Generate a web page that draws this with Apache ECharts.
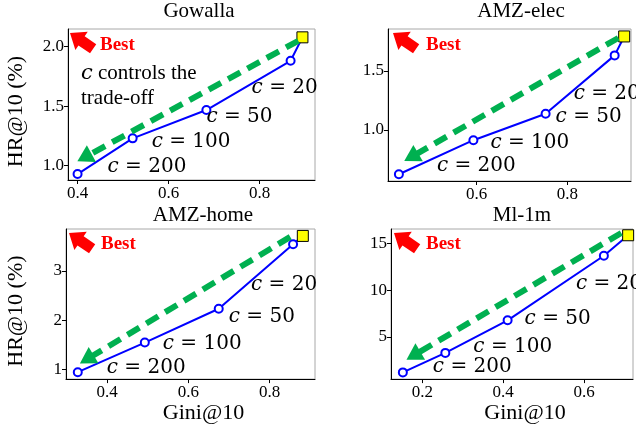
<!DOCTYPE html>
<html>
<head>
<meta charset="utf-8">
<script src="https://cdn.jsdelivr.net/npm/echarts@6/dist/echarts.min.js"></script>
<style>html,body{margin:0;padding:0;background:#fff}#c{width:636px;height:425px}</style>
</head>
<body>
<div id="c"></div>
<script>
// ---------------- data ----------------
const datasets = ['Gowalla', 'AMZ-elec', 'AMZ-home', 'Ml-1m'];
const cValues = [20, 50, 100, 200];
// c-controlled points (c = 20, 50, 100, 200)
const gowallaGini = [0.868, 0.683, 0.521, 0.400];
const gowallaHR   = [1.882, 1.468, 1.230, 0.930];
const elecGini = [0.904, 0.752, 0.593, 0.429];
const elecHR   = [1.630, 1.136, 0.913, 0.625];
const homeGini = [0.858, 0.675, 0.493, 0.328];
const homeHR   = [3.54, 2.235, 1.55, 0.95];
const mlGini = [0.649, 0.411, 0.257, 0.152];
const mlHR   = [13.7, 6.78, 3.29, 1.20];
// base model (yellow square)
const baseGini = [0.894, 0.925, 0.882, 0.709];
const baseHR   = [2.079, 1.790, 3.710, 15.9];
// tick values & labels
const xTicks = [[0.4, 0.6, 0.8], [0.6, 0.8], [0.4, 0.6, 0.8], [0.2, 0.4, 0.6]];
const xTickLabels = [['0.4', '0.6', '0.8'], ['0.6', '0.8'], ['0.4', '0.6', '0.8'], ['0.2', '0.4', '0.6']];
const yTicks = [[1.0, 1.5, 2.0], [1.0, 1.5], [1, 2, 3], [5, 10, 15]];
const yTickLabels = [['1.0', '1.5', '2.0'], ['1.0', '1.5'], ['1', '2', '3'], ['5', '10', '15']];
const xAxisTitle = 'Gini@10';
const yAxisTitle = 'HR@10 (%)';
const bestText = 'Best';
const noteText = ' controls the\ntrade-off';

// ---------------- layout ----------------
const giniSets = [gowallaGini, elecGini, homeGini, mlGini];
const hrSets = [gowallaHR, elecHR, homeHR, mlHR];
const grids = [
  {left: 68, top: 29, width: 247, height: 151},
  {left: 388, top: 29, width: 243, height: 152},
  {left: 66, top: 229, width: 249, height: 151},
  {left: 391, top: 229, width: 242, height: 151}
];
const xRanges = [[0.379, 0.9216], [0.405, 0.94], [0.299, 0.912], [0.1227, 0.721]];
const yRanges = [[0.88, 2.149], [0.568, 1.853], [0.81, 3.85], [0.48, 16.57]];
const titlePos = [[199, 1], [521, 1], [203, 205], [522, 205]];
// pixel offsets of "c = .." labels relative to each point (c=20,50,100,200)
const labelOffsets = [
  [[-39, 27], [0, 7], [19, 3], [30, -7]],
  [[-41, 38], [10, 3], [17, 3], [38, -8]],
  [[-42, 40], [10, 8], [18, 1], [29, -4]],
  [[-28, 28], [17, -2], [28, -6], [30, -6]]
];
// green trade-off arrows in data coords [start, head]
const trendArrows = [
  [[0.885, 2.05], [0.415, 1.07]],
  [[0.912, 1.777], [0.456, 0.77]],
  [[0.851, 3.69], [0.350, 1.21]],
  [[0.692, 16.14], [0.178, 3.0]]
];
const bestPos = [ // arrow tip, text left/center
  [[70, 33], [100, 45]],
  [[393, 33], [426, 45]],
  [[69, 233], [101, 244]],
  [[394, 233], [426, 244]]
];

const SERIF = '"Liberation Serif", "Times New Roman", serif';
const MATH = '"DejaVu Serif", serif';
const BLUE = '#0000ff';
const GREEN = '#00b050';

const option = {
  animation: false,
  backgroundColor: '#fff',
  title: datasets.map((d, i) => ({
    text: d, left: titlePos[i][0], top: titlePos[i][1], textAlign: 'center', padding: 0,
    textStyle: {fontFamily: SERIF, fontSize: 21, fontWeight: 'normal', color: '#000'}
  })),
  grid: grids.map(g => Object.assign({show: true, borderColor: '#a8a8a8', borderWidth: 1, backgroundColor: 'transparent'}, g)),
  xAxis: grids.map((g, i) => ({
    type: 'value', gridIndex: i, min: xRanges[i][0], max: xRanges[i][1],
    splitLine: {show: false},
    axisLine: {show: true, onZero: false, lineStyle: {color: '#000', width: 1}},
    axisTick: {show: true, length: 4, customValues: xTicks[i], lineStyle: {color: '#000'}},
    axisLabel: {customValues: xTicks[i], margin: 5, fontFamily: SERIF, fontSize: 17, color: '#000',
      formatter: v => { const k = xTicks[i].findIndex(t => Math.abs(t - v) < 1e-9); return k >= 0 ? xTickLabels[i][k] : ''; }},
    name: i >= 2 ? xAxisTitle : '', nameLocation: 'middle', nameGap: 19,
    nameTextStyle: {fontFamily: SERIF, fontSize: 22, color: '#000', verticalAlign: 'top', padding: [0, 0, 0, 26]}
  })),
  yAxis: grids.map((g, i) => ({
    type: 'value', gridIndex: i, min: yRanges[i][0], max: yRanges[i][1],
    splitLine: {show: false},
    axisLine: {show: true, onZero: false, lineStyle: {color: '#000', width: 1}},
    axisTick: {show: true, length: 4, customValues: yTicks[i], lineStyle: {color: '#000'}},
    axisLabel: {customValues: yTicks[i], margin: 4, fontFamily: SERIF, fontSize: 17, color: '#000',
      formatter: v => { const k = yTicks[i].findIndex(t => Math.abs(t - v) < 1e-9); return k >= 0 ? yTickLabels[i][k] : ''; }},
    name: (i % 2 === 0) ? yAxisTitle : '', nameLocation: 'middle', nameGap: i === 0 ? 41 : 39,
    nameTextStyle: {fontFamily: SERIF, fontSize: 22, color: '#000', padding: [0, 14, 0, 0]}
  })),
  series: datasets.map((d, i) => {
    const pts = [{
      value: [baseGini[i], baseHR[i]], symbol: 'rect', symbolSize: 11,
      itemStyle: {color: '#ffff00', borderColor: '#000', borderWidth: 1}, z: 5,
      label: {show: false}
    }];
    giniSets[i].forEach((g, k) => {
      pts.push({
        value: [g, hrSets[i][k]],
        label: {
          show: true, position: 'inside', offset: labelOffsets[i][k], align: 'left', verticalAlign: 'middle',
          formatter: '{i|c}{n| = ' + cValues[k] + '}',
          rich: {
            i: {fontFamily: MATH, fontStyle: 'italic', fontSize: 20, color: '#000'},
            n: {fontFamily: MATH, fontSize: 20, color: '#000'}
          }
        }
      });
    });
    return {
      type: 'line', name: d, xAxisIndex: i, yAxisIndex: i, data: pts, clip: false,
      symbol: 'emptyCircle', symbolSize: 8, showAllSymbol: true,
      lineStyle: {color: BLUE, width: 2},
      itemStyle: {color: BLUE, borderColor: BLUE, borderWidth: 1.5},
      z: 3,
      markLine: {
        silent: true, animation: false, symbol: ['none', 'triangle'], symbolSize: [19, 16],
        label: {show: false},
        lineStyle: {color: GREEN, width: 6, type: [14, 8]},
        emphasis: {disabled: true},
        data: [[{coord: trendArrows[i][0]}, {coord: trendArrows[i][1]}]]
      }
    };
  }),
  graphic: []
};

// "Best" annotations
function arrowPoly(tip) {
  const ux = -22, uy = -15, L = Math.hypot(ux, uy);
  const u = [ux / L, uy / L], v = [-u[1], u[0]];
  const len = 28, headLen = 14, hw = 11, sw = 5.5;
  const bc = [tip[0] - u[0] * headLen, tip[1] - u[1] * headLen];
  const tc = [tip[0] - u[0] * len, tip[1] - u[1] * len];
  return [tip,
    [bc[0] + v[0] * hw, bc[1] + v[1] * hw], [bc[0] + v[0] * sw, bc[1] + v[1] * sw],
    [tc[0] + v[0] * sw, tc[1] + v[1] * sw], [tc[0] - v[0] * sw, tc[1] - v[1] * sw],
    [bc[0] - v[0] * sw, bc[1] - v[1] * sw], [bc[0] - v[0] * hw, bc[1] - v[1] * hw]];
}
bestPos.forEach(p => {
  option.graphic.push({type: 'polygon', shape: {points: arrowPoly(p[0])}, style: {fill: '#ff0000'}, z: 10, silent: true});
  option.graphic.push({type: 'text', x: p[1][0], y: p[1][1], z: 10, silent: true,
    style: {text: bestText, fill: '#ff0000', fontFamily: SERIF, fontSize: 19, fontWeight: 'bold', verticalAlign: 'middle'}});
});
const noteLines = noteText.split('\n');
option.graphic.push({type: 'text', x: 81, y: 61, z: 10, silent: true,
  style: {text: '{i|c}' + noteLines[0] + '\n' + noteLines[1], fill: '#000', fontFamily: SERIF, fontSize: 21, lineHeight: 25,
    rich: {i: {fontFamily: MATH, fontStyle: 'italic', fontSize: 21, lineHeight: 25}}}});

const chart = echarts.init(document.getElementById('c'), null, {renderer: 'canvas'});
chart.setOption(option);
</script>
</body>
</html>
